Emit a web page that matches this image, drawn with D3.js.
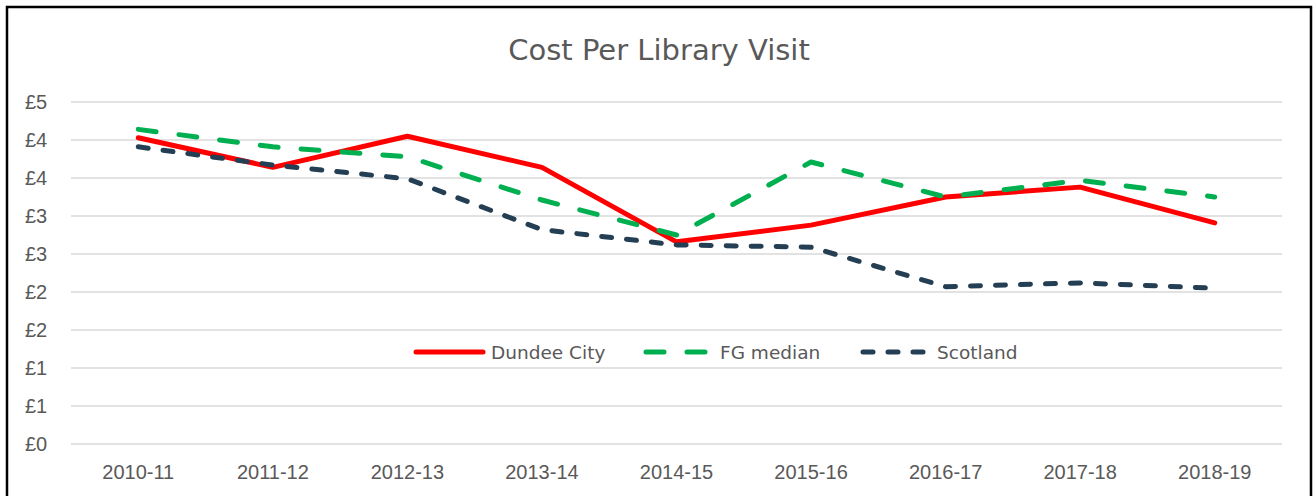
<!DOCTYPE html>
<html>
<head>
<meta charset="utf-8">
<script src="https://cdn.jsdelivr.net/npm/d3@7"></script>
<style>
  body { margin: 0; background: #fff; }
  svg { display: block; font-family: "DejaVu Sans", sans-serif; }
  .grid line { stroke: #d9d9d9; stroke-width: 1.5px; }
  .tick text { fill: #595959; font-size: 20px; }
</style>
</head>
<body>
<svg id="chart" width="1314" height="496"></svg>
<script>
  const years = ['2010-11', '2011-12', '2012-13', '2013-14', '2014-15', '2015-16', '2016-17', '2017-18', '2018-19'];
  const dundee = [4.03, 3.64, 4.05, 3.64, 2.66, 2.88, 3.25, 3.38, 2.91];
  const fgMedian = [4.14, 3.91, 3.78, 3.21, 2.75, 3.71, 3.25, 3.47, 3.25];
  const scotland = [3.91, 3.67, 3.49, 2.82, 2.62, 2.59, 2.07, 2.12, 2.05];
  const yTicks = [0, 0.5, 1, 1.5, 2, 2.5, 3, 3.5, 4, 4.5];

  const series = [
    {name: 'Dundee City', values: dundee, color: '#ff0000', dash: null},
    {name: 'FG median', values: fgMedian, color: '#00b050', dash: '18,23'},
    {name: 'Scotland', values: scotland, color: '#243f54', dash: '10,15'}
  ];

  const svg = d3.select('#chart');
  const plotL = 71, plotR = 1282, plotT = 102, plotB = 444;

  // frame around the chart
  svg.append('rect')
    .attr('x', 7).attr('y', 7)
    .attr('width', 1304).attr('height', 500)
    .attr('fill', 'none').attr('stroke', '#000').attr('stroke-width', 2.5);

  svg.append('text')
    .attr('x', 659).attr('y', 60)
    .attr('text-anchor', 'middle')
    .attr('fill', '#595959')
    .style('font-size', '29px')
    .text('Cost Per Library Visit');

  const x = d3.scaleBand().domain(years).range([plotL, plotR]);
  const y = d3.scaleLinear().domain([0, 4.5]).range([plotB, plotT]);

  // gridlines
  svg.append('g').attr('class', 'grid')
    .selectAll('line').data(yTicks).join('line')
    .attr('x1', plotL).attr('x2', plotR)
    .attr('y1', d => y(d)).attr('y2', d => y(d));

  // y labels are rounded to whole pounds, as in the original
  const yAxis = svg.append('g')
    .attr('transform', `translate(${plotL},0)`)
    .call(d3.axisLeft(y).tickValues(yTicks).tickSize(0).tickPadding(0)
      .tickFormat(d => '£' + Math.round(d)));
  yAxis.select('.domain').remove();
  yAxis.selectAll('text').attr('text-anchor', 'start').attr('x', -46);

  const xAxis = svg.append('g')
    .attr('transform', `translate(0,${plotB})`)
    .call(d3.axisBottom(x).tickSize(0).tickPadding(21));
  xAxis.select('.domain').remove();

  const line = d3.line()
    .x((d, i) => x(years[i]) + x.bandwidth() / 2)
    .y(d => y(d));

  svg.append('g').selectAll('path').data(series).join('path')
    .attr('d', d => line(d.values))
    .attr('fill', 'none')
    .attr('stroke', d => d.color)
    .attr('stroke-width', 5)
    .attr('stroke-linecap', 'round')
    .attr('stroke-linejoin', 'round')
    .attr('stroke-dasharray', d => d.dash);

  // legend
  const legendX = [416, 646, 863];
  const leg = svg.append('g').selectAll('g').data(series).join('g')
    .attr('transform', (d, i) => `translate(${legendX[i]},352)`);
  leg.append('line')
    .attr('x1', 0).attr('x2', (d, i) => i === 0 ? 67 : 60)
    .attr('stroke', d => d.color)
    .attr('stroke-width', 5)
    .attr('stroke-linecap', 'round')
    .attr('stroke-dasharray', d => d.dash);
  leg.append('text')
    .attr('x', (d, i) => i === 0 ? 75 : 74).attr('y', 7)
    .attr('fill', '#595959')
    .style('font-size', '18.5px')
    .text(d => d.name);
</script>
</body>
</html>
